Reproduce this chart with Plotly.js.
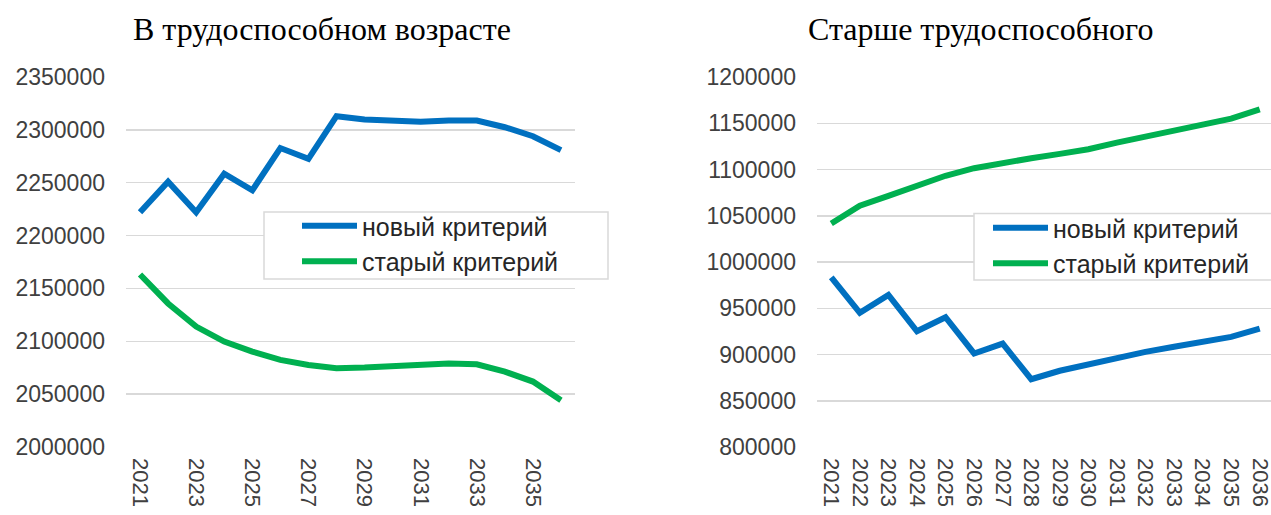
<!DOCTYPE html>
<html>
<head>
<meta charset="utf-8">
<script src="https://cdn.plot.ly/plotly-3.0.1.min.js"></script>
<style>
html,body{margin:0;padding:0;overflow:hidden;background:#fff;}
#chart{width:1280px;height:515px;}
</style>
</head>
<body>
<div id="chart"></div>
<script>
const years = [2021,2022,2023,2024,2025,2026,2027,2028,2029,2030,2031,2032,2033,2034,2035,2036];
const seriesNames = ["новый критерий", "старый критерий"];
const titleLeft = "В трудоспособном возрасте";
const titleRight = "Старше трудоспособного";

// Working age
const workNew = [2222000,2251000,2222000,2258500,2242800,2282800,2272600,2312900,2309800,2308200,2307600,2308800,2308800,2302500,2294000,2280800];
const workOld = [2163200,2135800,2113900,2099700,2090200,2082400,2077600,2074500,2075100,2076600,2077300,2078900,2078300,2071300,2061900,2044300];

// Older than working age
const olderNew = [983500,945000,964400,925100,940300,901100,911800,873300,882400,889600,896400,902900,908300,913300,919000,928000];
const olderOld = [1041700,1060800,1071500,1083100,1093200,1101400,1107500,1112200,1116900,1121900,1129100,1135200,1141500,1148000,1155000,1165000];

const BLUE = "#0070C0", GREEN = "#00B050";
const W = 1280, H = 515;
const yTickFont = {family: "Liberation Sans, Arial, sans-serif", size: 23, color: "#404040"};
const xTickFont = {family: "Liberation Sans, Arial, sans-serif", size: 22, color: "#404040"};
const legFont = {family: "Liberation Sans, Arial, sans-serif", size: 25, color: "#262626"};
const titleFont = {family: "Liberation Serif, Times New Roman, serif", size: 32, color: "#000"};

function line(x, y, name, color, xa, ya, leg){
  return {x: x, y: y, name: name, type: "scatter", mode: "lines",
    line: {color: color, width: 6, shape: "linear"},
    xaxis: xa, yaxis: ya, legend: leg, hoverinfo: "skip"};
}

const data = [
  line(years, workNew, seriesNames[0], BLUE, "x", "y", "legend"),
  line(years, workOld, seriesNames[1], GREEN, "x", "y", "legend"),
  line(years, olderNew, seriesNames[0], BLUE, "x2", "y2", "legend2"),
  line(years, olderOld, seriesNames[1], GREEN, "x2", "y2", "legend2")
];

const yDom = [1 - 447/H, 1 - 77/H];
const gridStyle = {showgrid: true, gridcolor: "#d9d9d9", gridwidth: 1.5, zeroline: false, showline: false, ticks: ""};

function box(x0, x1, y0, y1){
  return {type: "rect", xref: "paper", yref: "paper", x0: x0/W, x1: x1/W, y0: 1 - y1/H, y1: 1 - y0/H,
    fillcolor: "#fff", line: {color: "#d9d9d9", width: 1.5}, layer: "above"};
}

const layout = {
  width: W, height: H,
  margin: {l: 0, r: 0, t: 0, b: 0},
  paper_bgcolor: "#fff", plot_bgcolor: "#fff",
  showlegend: true,
  xaxis: {domain: [126/W, 575/W], range: [2020.5, 2036.5], tickmode: "linear", tick0: 2021, dtick: 2,
    tickangle: 90, showgrid: false, zeroline: false, showline: false, ticks: "", tickfont: xTickFont,
    ticklabelstandoff: 10, fixedrange: true},
  yaxis: Object.assign({domain: yDom, range: [2000000, 2350000], tickmode: "linear", tick0: 2000000, dtick: 50000,
    tickformat: "d", tickfont: yTickFont, ticklabelstandoff: 20, fixedrange: true}, gridStyle),
  xaxis2: {domain: [817/W, 1274/W], range: [2020.5, 2036.5], tickmode: "linear", tick0: 2021, dtick: 1,
    tickangle: 90, showgrid: false, zeroline: false, showline: false, ticks: "", tickfont: xTickFont,
    ticklabelstandoff: 10, anchor: "y2", fixedrange: true},
  yaxis2: Object.assign({domain: yDom, range: [800000, 1200000], tickmode: "linear", tick0: 800000, dtick: 50000,
    tickformat: "d", tickfont: yTickFont, ticklabelstandoff: 20, anchor: "x2", fixedrange: true}, gridStyle),
  shapes: [box(264, 608, 212, 279), box(974, 1279, 213.5, 280)],
  legend: {x: 297/W, y: 1 - 203/H, xanchor: "left", yanchor: "top", bgcolor: "rgba(0,0,0,0)",
    borderwidth: 0, font: legFont, itemwidth: 55, tracegroupgap: 0},
  legend2: {x: 988/W, y: 1 - 205/H, xanchor: "left", yanchor: "top", bgcolor: "rgba(0,0,0,0)",
    borderwidth: 0, font: legFont, itemwidth: 55, tracegroupgap: 0},
  annotations: [
    {text: titleLeft, xref: "paper", yref: "paper", x: 131/W, y: 1 - 29/H, xanchor: "left", yanchor: "middle",
      showarrow: false, font: titleFont},
    {text: titleRight, xref: "paper", yref: "paper", x: 806/W, y: 1 - 29/H, xanchor: "left", yanchor: "middle",
      showarrow: false, font: titleFont}
  ]
};

Plotly.newPlot("chart", data, layout, {displayModeBar: false, staticPlot: true});
</script>
</body>
</html>
